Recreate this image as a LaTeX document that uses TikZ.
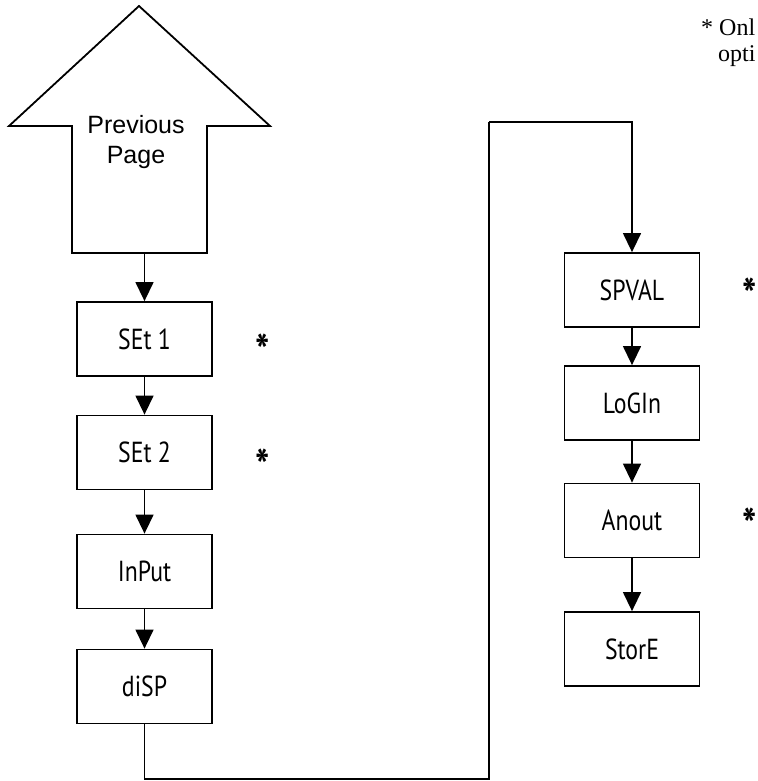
\documentclass[tikz,border=0pt]{standalone}
\usepackage{fontspec}
\setmainfont{Liberation Serif}
\newfontfamily\boxfont[FakeStretch=0.82]{PT Sans}
\newfontfamily\arrowfont{Liberation Sans}
\usetikzlibrary{arrows.meta,positioning}

\tikzset{
  menubox/.style={draw, line width=1.8pt, minimum width=135pt, minimum height=74pt,
    inner sep=0pt, font=\boxfont\fontsize{29}{34}\selectfont},
  flow/.style={line width=1.4pt, -{Triangle[length=19pt,width=18pt]}},
  rail/.style={line width=1.4pt},
  optmark/.style={anchor=base, inner sep=0pt, font=\boxfont\bfseries\fontsize{46}{50}\selectfont}
}

\begin{document}
\begin{tikzpicture}[x=1pt,y=-1pt]

\useasboundingbox (0,0) rectangle (757,781);

% --- Freccia pagina precedente ---
\draw[line width=1.8pt, line join=miter]
  (139,6) -- (270,126) -- (207,126) -- (207,253) -- (72,253)
  -- (72,126) -- (9,126) -- cycle;
\node[align=center, font=\arrowfont\fontsize{25}{30}\selectfont] (prev) at (136,142) {Previous\\Page};
\coordinate (prevbot) at (144.5,253);

% --- Colonna sinistra ---
\node[menubox] (set1) at (144.5,339) {SEt 1};
\node[menubox] (set2) at (144.5,452.5) {SEt 2};
\node[menubox] (input) at (144.5,571.5) {InPut};
\node[menubox] (disp) at (144.5,686.5) {diSP};

% --- Colonna destra ---
\node[menubox] (spval) at (632,290) {SPVAL};
\node[menubox] (login) at (632,403) {LoGIn};
\node[menubox] (anout) at (632,520.5) {Anout};
\node[menubox] (store) at (632,649) {StorE};

% --- Frecce ---
\draw[flow] (prevbot) -- (set1);
\draw[flow] (set1) -- (set2);
\draw[flow] (set2) -- (input);
\draw[flow] (input) -- (disp);
\draw[flow] (spval) -- (login);
\draw[flow] (login) -- (anout);
\draw[flow] (anout) -- (store);

\coordinate (railbot) at (489,779);
\coordinate (railtop) at (489,122);
\draw[rail] (disp.south) |- (railbot) -- (railtop);
\draw[flow] (railtop) -| (spval.north);

% --- Asterischi ---
\node[optmark] (star1) at (263,367) {*};
\node[optmark] (star2) at (263,482) {*};
\node[optmark] (star3) at (750,311) {*};
\node[optmark] (star4) at (750,541) {*};

% --- Nota ---
\node[anchor=base west, inner sep=0pt, font=\fontsize{24}{26}\selectfont] (note1) at (701,36) {* Onl};
\node[anchor=base west, inner sep=0pt, font=\fontsize{24}{26}\selectfont] (note2) at (718,62) {opti};

\end{tikzpicture}
\end{document}
